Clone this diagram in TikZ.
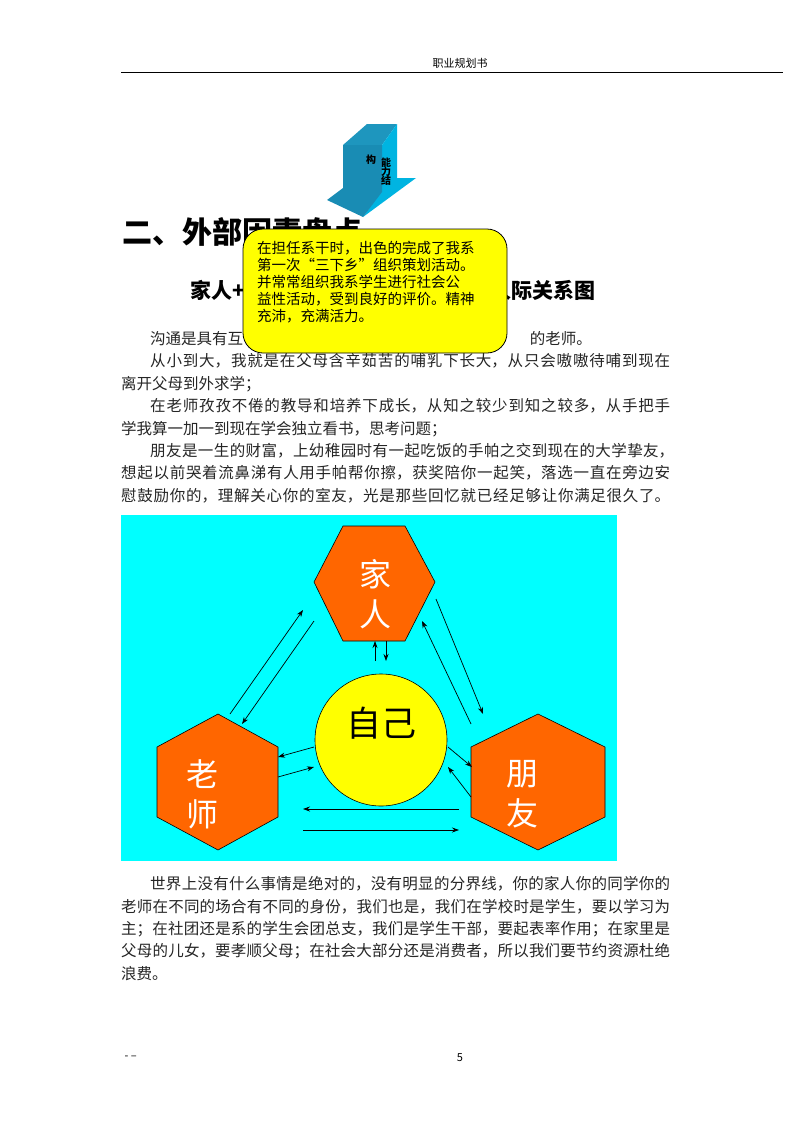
\documentclass[tikz,border=0pt]{standalone}
\usepackage{fontspec}
\setmainfont{Noto Sans CJK SC}
\usetikzlibrary{arrows.meta}
\XeTeXlinebreaklocale "zh"
\XeTeXlinebreakskip=0pt plus 2pt
\definecolor{hexor}{HTML}{FF6600}
\definecolor{bgcy}{HTML}{00FFFF}
\definecolor{yel}{HTML}{FFFF00}
\tikzset{
 body/.style={anchor=north west,inner sep=0pt,font=\fontsize{15.5}{22}\selectfont,text=black!85},
 hexa/.style={fill=hexor,draw=black,line width=0.6pt},
 hexlbl/.style={font=\fontsize{32}{40}\selectfont,text=white,align=center},
 rel/.style={-{Stealth[length=7pt,width=5pt]},line width=0.7pt},
}
\newcommand{\jline}[2]{\parbox{#1pt}{\parfillskip=0pt\relax #2}}
\begin{document}
\begin{tikzpicture}[x=1pt,y=-1pt]
\useasboundingbox (0,0) rectangle (800,1132);
\fill[white] (0,0) rectangle (800,1132);
% header / footer
\node[font=\fontsize{11}{13}\selectfont] (hdr) at (460,63) {职业规划书};
\draw[line width=0.8pt] (121,72) -- (783,72);
\node[font=\fontsize{11}{13}\selectfont,anchor=west] (ftl) at (121,1058) {- –};
\node[font=\fontsize{11}{13}\selectfont] (ftn) at (460,1058) {5};
% 3D arrow
\fill[fill={rgb,255:red,30;green,150;blue,190}] (343,145) -- (367,124) -- (397,124) -- (382,145) -- cycle;
\fill[fill={rgb,255:red,0;green,180;blue,225}] (382,145) -- (397,124) -- (397,178) -- (416,178) -- (363,217) -- (382,190) -- cycle;
\fill[fill={rgb,255:red,25;green,140;blue,180}] (343,145) -- (382,145) -- (382,192) -- (363,217) -- (327,200) -- (343,188) -- cycle;
\node[font=\bfseries\fontsize{10}{11}\selectfont] (a1) at (371,160) {构};
\node[font=\bfseries\fontsize{10}{11}\selectfont,align=center] (a2) at (386,172) {能\\[-2pt]力\\[-2pt]结};
% headings
\node[anchor=west,font=\bfseries\fontsize{30}{34}\selectfont] (h1) at (119,232) {二、外部因素盘点};
\node[anchor=west,font=\bfseries\fontsize{21}{25}\selectfont] (h2a) at (187,290) {家人+};
\node[anchor=east,font=\bfseries\fontsize{21}{25}\selectfont] (h2b) at (599,290) {人际关系图};
% body
\node[body] (p0a) at (150,331) {沟通是具有互};
\node[body,anchor=north east] (p0b) at (592,331) {的老师。};
\node[body] (p1) at (150,353) {\jline{520}{从小到大，我就是在父母含辛茹苦的哺乳下长大，从只会嗷嗷待哺到现在}};
\node[body] (p2) at (121,376) {离开父母到外求学；};
\node[body] (p3) at (150,398) {\jline{520}{在老师孜孜不倦的教导和培养下成长，从知之较少到知之较多，从手把手}};
\node[body] (p4) at (121,421) {学我算一加一到现在学会独立看书，思考问题；};
\node[body] (p5) at (150,443) {\jline{524}{朋友是一生的财富，上幼稚园时有一起吃饭的手帕之交到现在的大学挚友，}};
\node[body] (p6) at (121,465) {\jline{549}{想起以前哭着流鼻涕有人用手帕帮你擦，获奖陪你一起笑，落选一直在旁边安}};
\node[body] (p7) at (121,488) {\jline{549}{慰鼓励你的，理解关心你的室友，光是那些回忆就已经足够让你满足很久了。}};
\node[body] (q1) at (150,876) {\jline{520}{世界上没有什么事情是绝对的，没有明显的分界线，你的家人你的同学你的}};
\node[body] (q2) at (121,899) {\jline{549}{老师在不同的场合有不同的身份，我们也是，我们在学校时是学生，要以学习为}};
\node[body] (q3) at (121,921) {\jline{549}{主；在社团还是系的学生会团总支，我们是学生干部，要起表率作用；在家里是}};
\node[body] (q4) at (121,943) {\jline{549}{父母的儿女，要孝顺父母；在社会大部分还是消费者，所以我们要节约资源杜绝}};
\node[body] (q5) at (121,966) {浪费。};
% callout
\draw[fill=yel,line width=0.8pt,rounded corners=20pt] (243,229) rectangle (507,353);
\node[anchor=north west,inner sep=0pt,align=left,font=\fontsize{14.5}{17}\selectfont] (call) at (257,241)
 {在担任系干时，出色的完成了我系\\第一次“三下乡”组织策划活动。\\并常常组织我系学生进行社会公\\益性活动，受到良好的评价。精神\\充沛，充满活力。};
% diagram
\fill[bgcy] (121,515) rectangle (617,861);
\draw[hexa] (343,526) -- (405,526) -- (435,582) -- (405,641) -- (343,641) -- (314,582) -- cycle;
\draw[hexa] (218,714) -- (278,747) -- (278,817) -- (218,850) -- (157,817) -- (157,747) -- cycle;
\draw[hexa] (538,714) -- (605,747) -- (605,817) -- (538,850) -- (471,817) -- (471,747) -- cycle;
\node[hexlbl] (fam) at (375,594) {家\\人};
\node[hexlbl] (tea) at (202,794) {老\\师};
\node[hexlbl] (fri) at (522,794) {朋\\友};
\draw[fill=yel,line width=0.6pt] (381,740) circle (66);
\node[font=\fontsize{35}{40}\selectfont] (self) at (381,723) {自己};
% arrow endpoints
\foreach \n/\p in {a/{375,661},b/{375,641},c/{386,641},d/{386,661},
 e/{230,714},f/{303,610},g/{314,621},h/{242,724},
 i/{436,599},j/{483,714},k/{471,724},l/{422,621},
 m/{314,747},n/{278,757},o/{278,777},p/{314,767},
 q/{448,747},r/{472,767},s/{471,797},t/{448,767},
 u/{459,809},v/{303,809},w/{303,830},z/{459,830}}
 \coordinate (\n) at (\p);
\draw[rel] (a) -- (b); \draw[rel] (c) -- (d);
\draw[rel] (e) -- (f); \draw[rel] (g) -- (h);
\draw[rel] (i) -- (j); \draw[rel] (k) -- (l);
\draw[rel] (m) -- (n); \draw[rel] (o) -- (p);
\draw[rel] (q) -- (r); \draw[rel] (s) -- (t);
\draw[rel] (u) -- (v); \draw[rel] (w) -- (z);
\end{tikzpicture}
\end{document}
